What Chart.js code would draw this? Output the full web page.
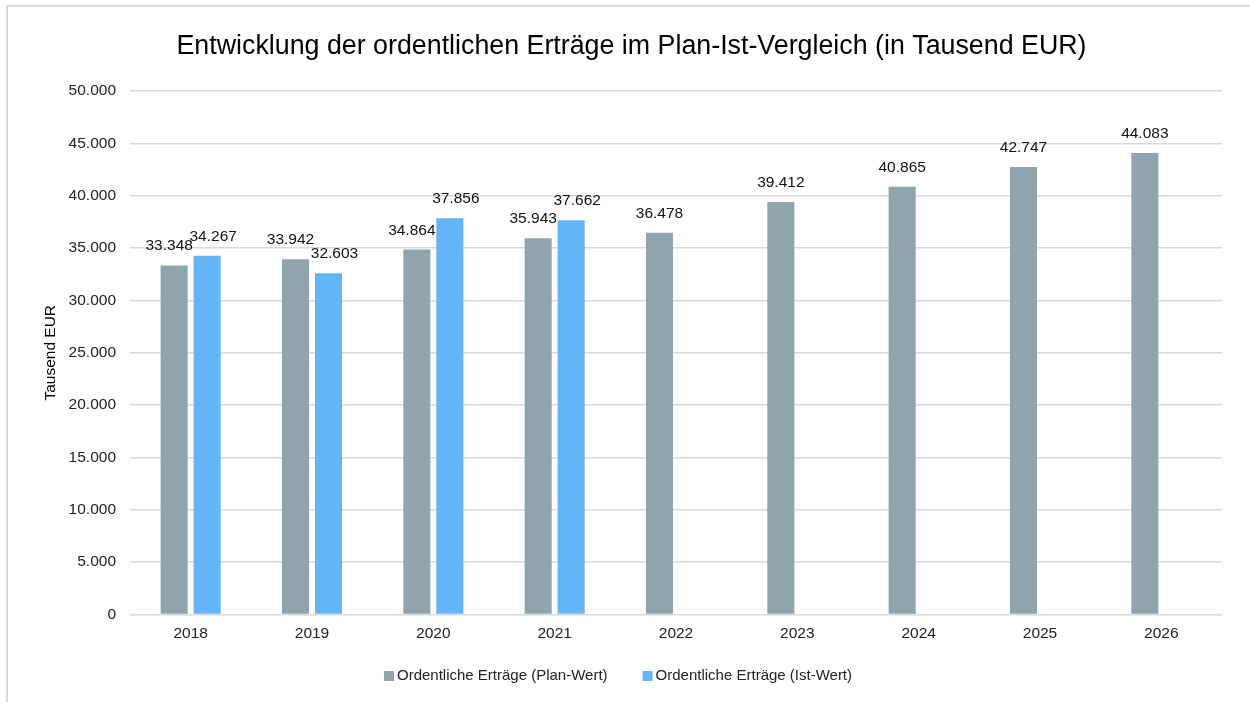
<!DOCTYPE html>
<html>
<head>
<meta charset="utf-8">
<script src="https://cdn.jsdelivr.net/npm/chart.js@4"></script>
<style>
  html, body { margin: 0; padding: 0; background: #fff; }
  #wrap { position: relative; width: 1250px; height: 702px; }
</style>
</head>
<body>
<div id="wrap"><canvas id="grafico" width="1250" height="702"></canvas></div>
<script>
const jahre = ['2018', '2019', '2020', '2021', '2022', '2023', '2024', '2025', '2026']
const planWerte = [33348, 33942, 34864, 35943, 36478, 39412, 40865, 42747, 44083]
const istWerte = [34267, 32603, 37856, 37662, null, null, null, null, null]
const yTicks = [0, 5000, 10000, 15000, 20000, 25000, 30000, 35000, 40000, 45000, 50000]

const fmt = (v) => v.toLocaleString('de-DE')
const schrift = "'Liberation Sans', Arial, sans-serif"

// rahmen links/oben wie im original
const rahmen = {
    id: 'rahmen',
    beforeDraw(chart) {
        const c = chart.ctx
        c.save()
        c.strokeStyle = '#d9d9d9'
        c.lineWidth = 2
        c.beginPath()
        c.moveTo(7, 702)
        c.lineTo(7, 6)
        c.lineTo(1250, 6)
        c.stroke()
        c.restore()
    }
}

// werte ueber den balken, bei zwei balken etwas auseinander
const werteLabels = {
    id: 'werteLabels',
    afterDatasetsDraw(chart) {
        const c = chart.ctx
        c.save()
        c.font = '15.5px ' + schrift
        c.fillStyle = '#111'
        c.textAlign = 'center'
        c.textBaseline = 'alphabetic'
        chart.data.datasets.forEach((ds, i) => {
            chart.getDatasetMeta(i).data.forEach((bar, j) => {
                const v = ds.data[j]
                if (v == null) return
                let dx = 0
                if (planWerte[j] != null && istWerte[j] != null) dx = i == 0 ? -5 : 6
                c.fillText(fmt(v), bar.x + dx, bar.y - 15)
            })
        })
        c.restore()
    }
}

// legende unten, kleine quadrate dicht am text
const legende = {
    id: 'legende',
    afterDraw(chart) {
        const c = chart.ctx
        const y = 676
        c.save()
        c.font = '15px ' + schrift
        c.textBaseline = 'middle'
        c.textAlign = 'left'
        const items = chart.data.datasets.map(ds => ({ text: ds.label, farbe: ds.backgroundColor, w: c.measureText(ds.label).width }))
        const gesamt = items.reduce((s, it) => s + 13 + it.w, 0) + 35 * (items.length - 1)
        let x = chart.width / 2 - gesamt / 2 - 7
        items.forEach(it => {
            c.fillStyle = it.farbe
            c.fillRect(x, y - 5, 10, 10)
            c.fillStyle = '#222'
            c.fillText(it.text, x + 13, y)
            x += 13 + it.w + 35
        })
        c.restore()
    }
}

const ctx = document.getElementById('grafico')
let grafico = new Chart(ctx, {
    type: 'bar',
    data: {
        labels: jahre,
        datasets: [{
            label: 'Ordentliche Erträge (Plan-Wert)',
            data: planWerte,
            backgroundColor: '#90a4ae',
            categoryPercentage: 0.544,
            barPercentage: 0.82
        }, {
            label: 'Ordentliche Erträge (Ist-Wert)',
            data: istWerte,
            backgroundColor: '#64b5f6',
            categoryPercentage: 0.544,
            barPercentage: 0.82
        }]
    },
    options: {
        responsive: false,
        animation: false,
        layout: { padding: { left: 41, right: 28, top: 10, bottom: 49 } },
        plugins: {
            title: {
                display: true,
                text: 'Entwicklung der ordentlichen Erträge im Plan-Ist-Vergleich (in Tausend EUR)',
                color: '#000',
                font: { family: schrift, size: 26.8, weight: 'normal' },
                padding: { top: 21, bottom: 28 }
            },
            legend: { display: false },
            tooltip: { enabled: false }
        },
        scales: {
            x: {
                grid: { display: false, drawTicks: false },
                border: { display: false },
                ticks: { color: '#222', font: { family: schrift, size: 15.5 }, padding: 10 }
            },
            y: {
                min: 0,
                max: 50000,
                afterBuildTicks: (s) => { s.ticks = yTicks.map(v => ({ value: v })) },
                grid: { color: '#d9d9d9', lineWidth: 1.5, drawTicks: false },
                border: { display: false },
                title: {
                    display: true,
                    text: 'Tausend EUR',
                    color: '#000',
                    font: { family: schrift, size: 15.5 },
                    padding: 0
                },
                ticks: {
                    color: '#222',
                    font: { family: schrift, size: 15.5 },
                    padding: 14,
                    callback: (v) => fmt(v)
                },
                afterFit: (s) => { s.width = 89 }
            }
        }
    },
    plugins: [rahmen, werteLabels, legende]
});
</script>
</body>
</html>
